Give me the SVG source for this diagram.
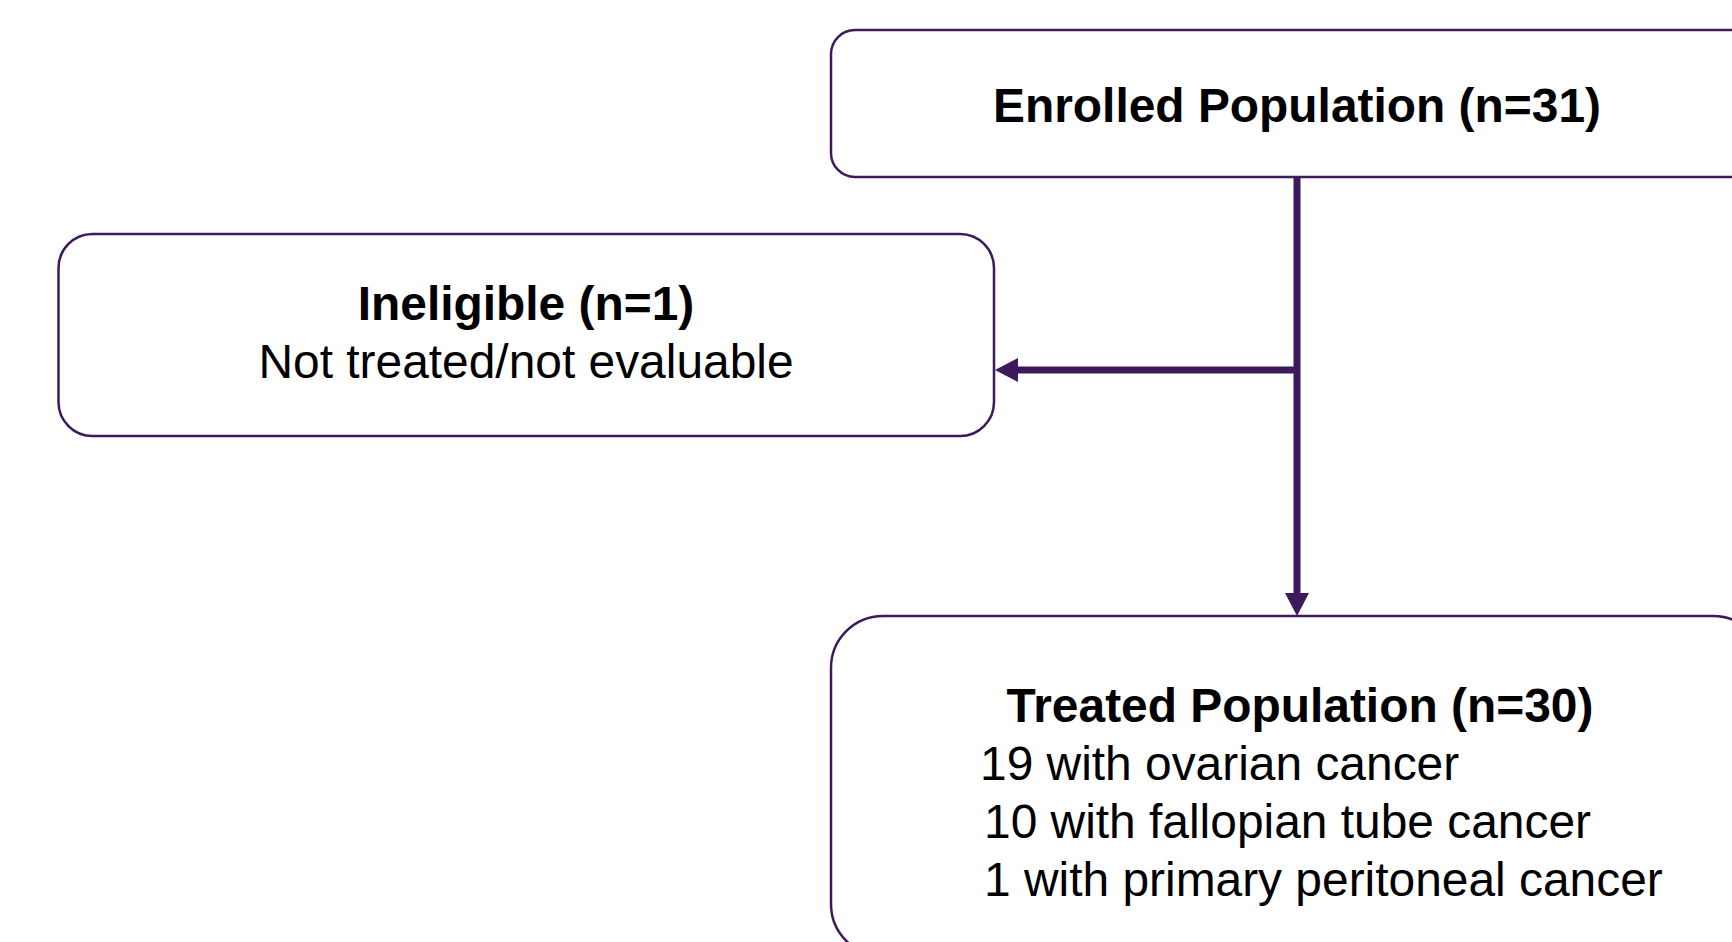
<svg xmlns="http://www.w3.org/2000/svg" width="1732" height="942" viewBox="0 0 1732 942">
<style>
.box{fill:#ffffff;stroke:#3C1A5B;stroke-width:2.5}
.t{font-family:"Liberation Sans",Arial,sans-serif;font-size:47.9px;fill:#000000}
.b{font-weight:bold}
.c{text-anchor:middle}
.conn{fill:none;stroke:#3C1A5B;stroke-width:7}
</style>
<defs>
<marker id="arr" viewBox="0 0 23 24" refX="0" refY="12" markerUnits="userSpaceOnUse" markerWidth="23" markerHeight="24" orient="auto">
<path d="M0,0 L23,12 L0,24 z" fill="#3C1A5B"/>
</marker>
</defs>
<rect width="1732" height="942" fill="#ffffff"/>
<g id="enrolled">
<rect class="box" x="831" y="30" width="934" height="147" rx="24" ry="24"/>
<text class="t b c" x="1297" y="122">Enrolled Population (n=31)</text>
</g>
<g id="ineligible">
<rect class="box" x="58.5" y="234" width="935.5" height="202" rx="34" ry="34"/>
<text class="t b c" x="526" y="320">Ineligible (n=1)</text>
<text class="t c" x="526" y="378">Not treated/not evaluable</text>
</g>
<g id="treated">
<rect class="box" x="831" y="616" width="934" height="340" rx="52" ry="52"/>
<text class="t b c" x="1300" y="722">Treated Population (n=30)</text>
<text class="t" x="980" y="780">19 with ovarian cancer</text>
<text class="t" x="984" y="838">10 with fallopian tube cancer</text>
<text class="t" x="984" y="896">1 with primary peritoneal cancer</text>
</g>
<g id="connectors">
<path class="conn" d="M1297,177 L1297,593" marker-end="url(#arr)"/>
<path class="conn" d="M1297,370 L1018,370" marker-end="url(#arr)"/>
</g>
</svg>
